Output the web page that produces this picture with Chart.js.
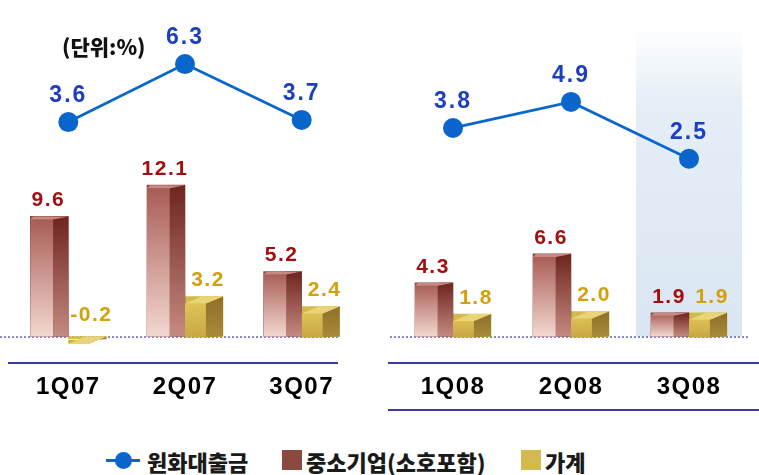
<!DOCTYPE html>
<html>
<head>
<meta charset="utf-8">
<script src="https://cdn.jsdelivr.net/npm/chart.js@4.4.1/dist/chart.umd.min.js"></script>
<style>
  body { margin: 0; background: #fff; width: 759px; height: 475px; overflow: hidden; position: relative; }
  canvas { position: absolute; top: 0; }
  #leftChart { left: 0; }
  #rightChart { left: 380px; }
  .unit { position: absolute; left: 62px; top: 31px; font: 900 21px "Noto Sans CJK KR", sans-serif; color: #111; }
  .lg { position: absolute; top: 445px; height: 30px; line-height: 30px; font: 900 22px "Noto Sans CJK KR", sans-serif; color: #1a1a1a; white-space: nowrap; }
  .sw { position: absolute; top: 450px; width: 20px; height: 20px; }
  .lineIcon { position: absolute; left: 106px; top: 459px; width: 34px; height: 3px; background: #0a66cc; }
  .dot { position: absolute; left: 115px; top: 452px; width: 17px; height: 17px; border-radius: 50%; background: #0a66cc; }
</style>
</head>
<body>
<canvas id="leftChart" width="370" height="420"></canvas>
<canvas id="rightChart" width="379" height="420"></canvas>
<div class="unit">(단위:%)</div>
<div class="lineIcon"></div><div class="dot"></div>
<div class="lg" style="left:147px" id="lg0"></div>
<div class="sw" style="left:282px;background:#8b4a40"></div>
<div class="lg" style="left:306px" id="lg1"></div>
<div class="sw" style="left:521px;background:#d2ba4e"></div>
<div class="lg" style="left:545px" id="lg2"></div>
<script>
// 분기
const periods07 = ["1Q07", "2Q07", "3Q07"];
const periods08 = ["1Q08", "2Q08", "3Q08"];
// 원화대출금 증가율
const loans07 = [3.6, 6.3, 3.7];
const loans08 = [3.8, 4.9, 2.5];
// 중소기업(소호포함)
const sme07 = [9.6, 12.1, 5.2];
const sme08 = [4.3, 6.6, 1.9];
// 가계
const household07 = [-0.2, 3.2, 2.4];
const household08 = [1.8, 2.0, 1.9];
const seriesNames = ["원화대출금", "중소기업(소호포함)", "가계"];

seriesNames.forEach((n, i) => { document.getElementById("lg" + i).textContent = n; });

const NUM_FONT = '"Liberation Sans", Arial, sans-serif';

function vGrad(ctx, top, bottom, c1, c2) {
  const g = ctx.createLinearGradient(0, top, 0, bottom);
  g.addColorStop(0, c1);
  g.addColorStop(1, c2);
  return g;
}

// 3D look for the bars + value labels + rules
const decoPlugin = {
  id: "deco",
  beforeDraw(chart) {
    chart.ctx.letterSpacing = "1.5px";
  },
  beforeDatasetsDraw(chart, args, opts) {
    const ctx = chart.ctx;
    const y0 = chart.scales.y.getPixelForValue(0);
    ctx.save();
    if (opts.shade) {
      const xc = chart.scales.x.getPixelForValue(2);
      const g = ctx.createLinearGradient(0, 25, 0, y0);
      g.addColorStop(0, "rgba(222,234,245,0)");
      g.addColorStop(0.25, "rgba(222,234,245,0.8)");
      g.addColorStop(1, "#dae6f2");
      ctx.fillStyle = g;
      ctx.fillRect(xc - 53, 25, 106, y0 - 25);
    }
    // dotted zero line
    ctx.strokeStyle = "#3a3aa0";
    ctx.lineWidth = 1.2;
    ctx.setLineDash([2, 2]);
    ctx.beginPath();
    ctx.moveTo(opts.dot[0], y0 + 0.5);
    ctx.lineTo(opts.dot[1], y0 + 0.5);
    ctx.stroke();
    ctx.setLineDash([]);
    // solid rules
    ctx.strokeStyle = "#3b3b9c";
    ctx.lineWidth = 2;
    opts.rules.forEach(r => {
      ctx.beginPath();
      ctx.moveTo(r[0], r[2]);
      ctx.lineTo(r[1], r[2]);
      ctx.stroke();
    });
    ctx.restore();
  },
  afterDatasetsDraw(chart) {
    const ctx = chart.ctx;
    ctx.save();
    // bars
    [1, 2].forEach(di => {
      const meta = chart.getDatasetMeta(di);
      const data = chart.data.datasets[di].data;
      meta.data.forEach((el, i) => {
        const p = el.getProps(["x", "y", "base", "width"], true);
        const left = p.x - p.width / 2, right = p.x + p.width / 2;
        const top = Math.min(p.y, p.base), bottom = Math.max(p.y, p.base);
        if (di === 1) {
          const split = left + p.width * 0.6;
          ctx.fillStyle = vGrad(ctx, top, bottom, "#a65a53", "#f3d8d0");
          ctx.fillRect(left, top + 3, split - left, bottom - top - 3);
          ctx.fillStyle = vGrad(ctx, top, bottom, "#6e241f", "#c48a80");
          ctx.fillRect(split, top, right - split, bottom - top);
          ctx.fillStyle = "#c78a82";
          ctx.beginPath();
          ctx.moveTo(left, top + 3);
          ctx.lineTo(split, top + 3);
          ctx.lineTo(right, top);
          ctx.lineTo(left + 3, top);
          ctx.closePath();
          ctx.fill();
        } else {
          const split = left + p.width * 0.55;
          const cap = 7;
          ctx.fillStyle = vGrad(ctx, top, bottom, "#e4c85c", "#c9a844");
          ctx.fillRect(left, top + cap, split - left, bottom - top - cap + 1);
          ctx.fillStyle = vGrad(ctx, top, bottom, "#8d7028", "#a98a3a");
          ctx.beginPath();
          ctx.moveTo(split, top + cap);
          ctx.lineTo(right, top);
          ctx.lineTo(right, bottom);
          ctx.lineTo(split, bottom + 1);
          ctx.closePath();
          ctx.fill();
          ctx.fillStyle = "#e9d478";
          ctx.beginPath();
          ctx.moveTo(left, top + cap);
          ctx.lineTo(split, top + cap);
          ctx.lineTo(right, top);
          ctx.lineTo(left + p.width * 0.45, top);
          ctx.closePath();
          ctx.fill();
        }
        // value label
        const v = data[i];
        const ly = v >= 0 ? top - 16 : p.base - 21;
        ctx.font = "bold 21px " + NUM_FONT;
        ctx.letterSpacing = "1.5px";
        ctx.textAlign = "center";
        ctx.textBaseline = "middle";
        ctx.fillStyle = di === 1 ? "#a20f10" : "#d3a00c";
        ctx.fillText(v.toFixed(1), p.x + (di === 2 ? 4 : -1), ly);
      });
    });
    // line labels
    const lmeta = chart.getDatasetMeta(0);
    const ldata = chart.data.datasets[0].data;
    lmeta.data.forEach((pt, i) => {
      ctx.font = "bold 23px " + NUM_FONT;
      ctx.letterSpacing = "2px";
      ctx.textAlign = "center";
      ctx.textBaseline = "middle";
      ctx.fillStyle = "#1c3fc2";
      ctx.fillText(ldata[i].toFixed(1), pt.x, pt.y - 26);
    });
    ctx.restore();
  }
};

function makeChart(id, labels, loans, sme, household, cfg) {
  return new Chart(document.getElementById(id), {
    type: "bar",
    data: {
      labels: labels,
      datasets: [
        {
          type: "line", label: seriesNames[0], data: loans, yAxisID: "y1",
          borderColor: "#0a66cc", borderWidth: 2.8, pointRadius: 10,
          pointBackgroundColor: "#0a66cc", pointBorderWidth: 0, tension: 0, clip: false
        },
        { label: seriesNames[1], data: sme, backgroundColor: "#8b4a40", barThickness: 38, yAxisID: "y" },
        { label: seriesNames[2], data: household, backgroundColor: "#d2ba4e", barThickness: 38, yAxisID: "y" }
      ]
    },
    options: {
      responsive: false,
      animation: false,
      layout: { padding: { top: 20, bottom: 8.4, left: cfg.padLeft, right: cfg.padRight } },
      plugins: {
        legend: { display: false },
        tooltip: { enabled: false },
        deco: { shade: cfg.shade, dot: cfg.dot, rules: cfg.rules }
      },
      scales: {
        x: {
          grid: { display: false, drawTicks: false },
          border: { display: false },
          ticks: { color: "#000", padding: 10, font: { family: NUM_FONT, size: 24, weight: "bold" } }
        },
        y: { display: false, min: -2.1, max: 25.3 },
        y1: { display: false, min: cfg.lineMin, max: cfg.lineMax }
      }
    },
    plugins: [decoPlugin]
  });
}

makeChart("leftChart", periods07, loans07, sme07, household07, {
  padLeft: 5, padRight: 5, lineMin: -7.6, lineMax: 8.35, shade: false,
  dot: [0, 340], rules: [[8, 338, 363]]
});
makeChart("rightChart", periods08, loans08, sme08, household08, {
  padLeft: 14, padRight: 11, lineMin: -6.12, lineMax: 8.36, shade: true,
  dot: [10, 370], rules: [[8, 379, 363], [8, 379, 410]]
});
</script>
</body>
</html>
